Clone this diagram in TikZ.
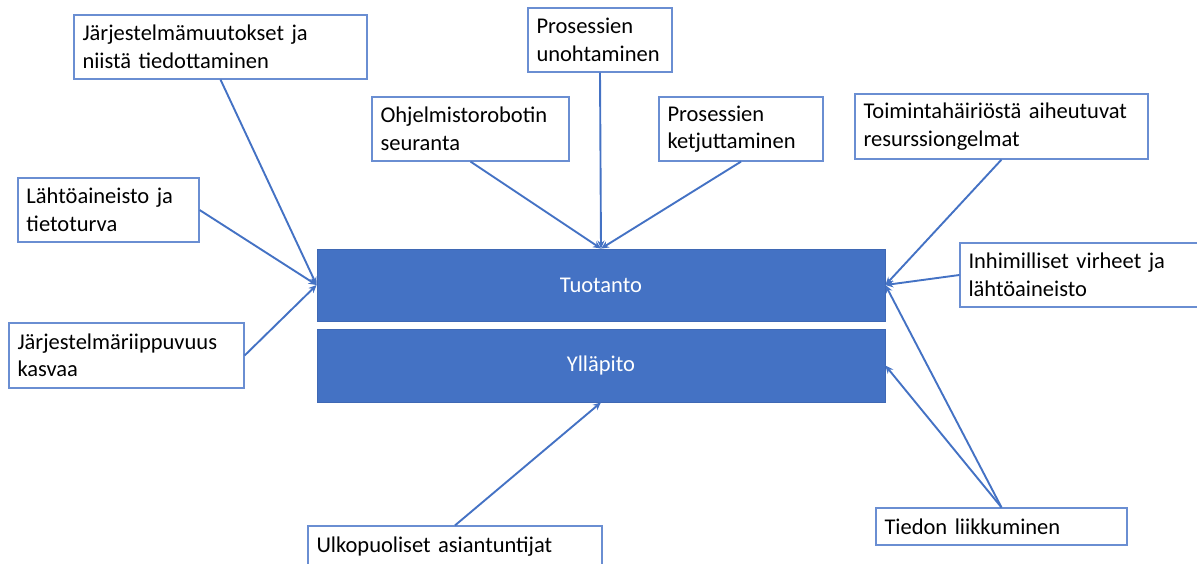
\documentclass[tikz,border=0pt]{standalone}
\usepackage{fontspec}
\setmainfont{Carlito}
\usetikzlibrary{arrows.meta}
\definecolor{accent}{HTML}{4472C4}
\definecolor{boxline}{HTML}{6A8ED2}
\definecolor{barline}{HTML}{3F68B4}
\begin{document}
\begin{tikzpicture}[x=1pt,y=-1pt,
  every node/.style={font=\fontsize{22.5}{27.5}\selectfont},
  factor/.style={draw=boxline, line width=1.2pt, fill=white, text=black,
    inner xsep=8.5pt, inner ysep=0pt, align=left},
  bar/.style={draw=barline, line width=0.8pt, fill=accent, text=white,
    minimum width=568pt, inner sep=0pt, align=center},
  link/.style={draw=accent, line width=1.9pt,
    -{Stealth[length=8pt,width=7pt]}}]
\useasboundingbox (0,0) rectangle (1197,563);

% central blocks
\node[bar, minimum height=72pt] (prod) at (601,285) {Tuotanto};
\node[bar, minimum height=73pt] (maint) at (601,365.5) {Ylläpito};

% surrounding factors
\node[factor, text width=276pt, minimum height=64pt] (sys) at (220.5,47)
  {Järjestelmämuutokset ja\\niistä tiedottaminen};
\node[factor, text width=164pt, minimum height=64pt] (src) at (108.5,210)
  {Lähtöaineisto ja\\tietoturva};
\node[factor, text width=218pt, minimum height=65pt] (dep) at (126.5,355.5)
  {Järjestelmäriippuvuus\\kasvaa};
\node[factor, text width=180pt, minimum height=64pt] (robot) at (470.5,129)
  {Ohjelmistorobotin\\seuranta};
\node[factor, text width=127pt, minimum height=64pt] (forget) at (600,40)
  {Prosessien\\unohtaminen};
\node[factor, text width=147pt, minimum height=64pt] (chain) at (741,129)
  {Prosessien\\ketjuttaminen};
\node[factor, text width=276pt, minimum height=65pt] (fault) at (1001.5,126.5)
  {Toimintahäiriöstä aiheutuvat\\resurssiongelmat};
\node[factor, text width=233pt, minimum height=64pt] (human) at (1085,275)
  {Inhimilliset virheet ja\\lähtöaineisto};
\node[factor, text width=234pt, minimum height=37pt] (flow) at (1001.5,526.5)
  {Tiedon liikkuminen};
\node[factor, text width=277pt, minimum height=41pt] (ext) at (455,546.5)
  {Ulkopuoliset asiantuntijat};

% connectors
\draw[link] (sys.south) -- (prod.west);
\draw[link] (src.east) -- (prod.west);
\draw[link] (dep.east) -- (prod.west);
\draw[link] (robot.south) -- (prod.north);
\draw[link] (forget.south) -- (prod.north);
\draw[link] (chain.south) -- (prod.north);
\draw[link] (fault.south) -- (prod.east);
\draw[link] (human.west) -- (prod.east);
\draw[link] (flow.north) -- (prod.east);
\draw[link] (flow.north) -- (maint.east);
\draw[link] (ext.north) -- (maint.south);
\end{tikzpicture}
\end{document}
